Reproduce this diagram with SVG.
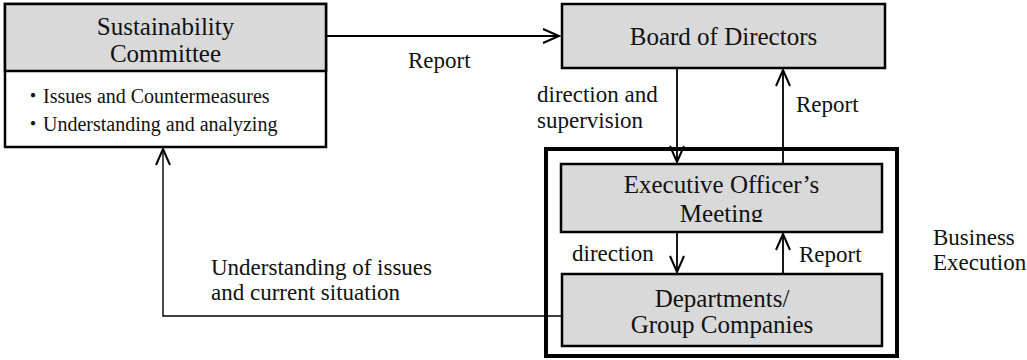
<svg xmlns="http://www.w3.org/2000/svg" width="1027" height="360" viewBox="0 0 1027 360">
<style>
.box{fill:#d9d9d9;stroke:#000;stroke-width:2.5}
.plain{fill:#fff;stroke:#000;stroke-width:2.5}
.outer{fill:none;stroke:#000;stroke-width:4}
.t{font-family:"Liberation Serif","Times New Roman",Tinos,"DejaVu Serif",serif;fill:#111}
.cjk{font-family:"Noto Sans CJK JP","Noto Sans CJK SC",sans-serif}
.big{font-size:25px;text-anchor:middle}
.lab{font-size:23px}
.bul{font-size:20px}
.con{fill:none;stroke:#000;stroke-width:1.8}
.thin{fill:none;stroke:#000;stroke-width:1.4}
</style>
<defs>
<marker id="ah" markerUnits="userSpaceOnUse" markerWidth="20" markerHeight="20" viewBox="-18 -10 20 20" refX="0" refY="0" orient="auto">
<path d="M-16,-7 L0,0 L-16,7" fill="none" stroke="#000" stroke-width="2"/>
</marker>
<clipPath id="clipExec"><rect x="560" y="163" width="324" height="59"/></clipPath>
</defs>

<g id="business-execution">
<rect class="outer" x="546" y="149" width="351" height="207"/>
<text class="t lab" x="933" y="245">Business</text>
<text class="t lab" x="933" y="270">Execution</text>
</g>

<g id="sustainability-committee">
<rect class="plain" x="5" y="4" width="321" height="143"/>
<rect class="box" x="5" y="4" width="321" height="67"/>
<text class="t big" x="165.5" y="35">Sustainability</text>
<text class="t big" x="165.5" y="62">Committee</text>
<text class="t bul" x="23" y="103"><tspan class="cjk">・</tspan>Issues and Countermeasures</text>
<text class="t bul" x="23" y="131"><tspan class="cjk">・</tspan>Understanding and analyzing</text>
</g>

<g id="board-of-directors">
<rect class="box" x="562" y="4" width="323" height="64"/>
<text class="t big" x="723.5" y="45">Board of Directors</text>
</g>

<g id="executive-officers-meeting">
<rect class="box" x="561" y="164" width="321" height="68"/>
<g clip-path="url(#clipExec)">
<text class="t big" x="721.5" y="193">Executive Officer’s</text>
<text class="t big" x="721.5" y="222">Meeting</text>
</g>
</g>

<g id="departments">
<rect class="box" x="562" y="274" width="320" height="72"/>
<text class="t big" x="722" y="307">Departments/</text>
<text class="t big" x="722" y="333">Group Companies</text>
</g>

<g id="connectors">
<line class="con" x1="326" y1="36" x2="559" y2="36" marker-end="url(#ah)"/>
<line class="con" x1="677" y1="69" x2="677" y2="162" marker-end="url(#ah)"/>
<line class="con" x1="783" y1="163" x2="783" y2="70" marker-end="url(#ah)"/>
<line class="con" x1="677" y1="233" x2="677" y2="272" marker-end="url(#ah)"/>
<line class="con" x1="783" y1="273" x2="783" y2="234" marker-end="url(#ah)"/>
<polyline class="thin" points="561,316 163,316 163,149" marker-end="url(#ah)"/>
<text class="t lab" x="408" y="68">Report</text>
<text class="t lab" x="537" y="102">direction and</text>
<text class="t lab" x="537" y="128">supervision</text>
<text class="t lab" x="796" y="112">Report</text>
<text class="t lab" x="572" y="261">direction</text>
<text class="t lab" x="799" y="262">Report</text>
<text class="t lab" x="211" y="275">Understanding of issues</text>
<text class="t lab" x="211" y="300">and current situation</text>
</g>
</svg>
